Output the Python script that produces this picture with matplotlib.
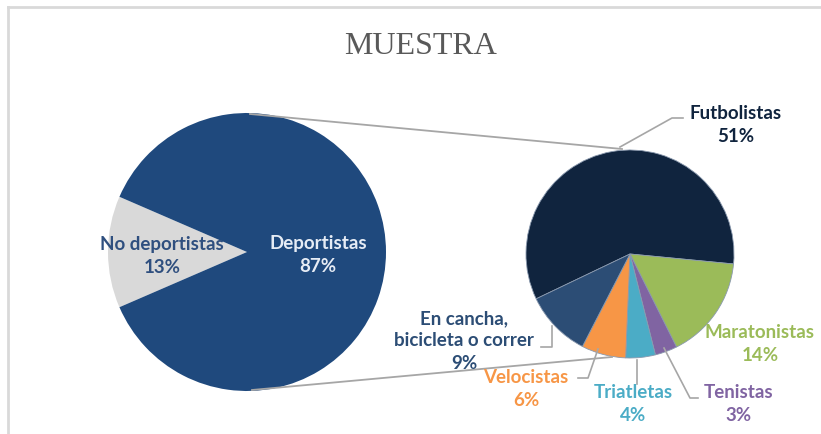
import matplotlib.pyplot as plt
from matplotlib.lines import Line2D

# datos
grupos = ['No deportistas', 'Deportistas']
grupos_pct = [13, 87]
grupos_col = ['#D9D9D9', '#1F497D']

deportes = ['Futbolistas', 'Maratonistas', 'Tenistas', 'Triatletas', 'Velocistas',
            'En cancha,\nbicicleta o correr']
deportes_pct = [51, 14, 3, 4, 6, 9]
deportes_col = ['#10243E', '#9BBB59', '#8064A2', '#4BACC6', '#F79646', '#2C4D75']
deportes_txt = ['#10243E', '#9BBB59', '#8064A2', '#4BACC6', '#F79646', '#2C4D75']

W, H = 821, 435


def Y(y):
    # coordenadas de pixel con origen arriba
    return H - y


fig = plt.figure(figsize=(W / 100, H / 100), dpi=100)
ax = fig.add_axes([0, 0, 1, 1])

# marco del grafico
ax.add_line(Line2D([8, 8], [Y(8), 0], color='#D9D9D9', lw=2))
ax.add_line(Line2D([8, W], [Y(8), Y(8)], color='#D9D9D9', lw=2))

ax.text(421, Y(46), 'MUESTRA', ha='center', va='center', fontsize=23,
        family='Liberation Serif', color='#595959')

# lineas de union entre las dos tortas
ax.plot([250, 622], [Y(115), Y(150)], color='#A6A6A6', lw=1.3)
ax.plot([252, 612], [Y(391), Y(358)], color='#A6A6A6', lw=1.3)

# torta principal
ang_nd = grupos_pct[0] / 100 * 360
ax.pie(grupos_pct, colors=grupos_col, center=(247, Y(253)), radius=139,
       startangle=180 - ang_nd / 2, counterclock=True,
       wedgeprops=dict(linewidth=0), frame=True)

# torta secundaria
ang_fut = deportes_pct[0] / sum(deportes_pct) * 360
ax.pie(deportes_pct, colors=deportes_col, center=(630, Y(255)), radius=104,
       startangle=-5.5 + ang_fut, counterclock=False,
       wedgeprops=dict(linewidth=0.6, edgecolor='#8A99AE'), frame=True)
ax.set_xlim(0, W)
ax.set_ylim(0, H)
ax.set_aspect('equal')
ax.axis('off')

fnt = dict(family='Lato', fontweight='bold', fontsize=13.5, ha='center',
           va='center', linespacing=1.4)

ax.text(162, Y(256), f'{grupos[0]}\n{grupos_pct[0]}%', color='#2F4F7F', **fnt)
ax.text(318, Y(255), f'{grupos[1]}\n{grupos_pct[1]}%', color='#E6ECF5', **fnt)

# etiquetas de la torta secundaria (posiciones de texto)
lbl_pos = [(736, 125), (760, 344), (739, 404), (633, 404), (526, 389), (464, 341)]
for nombre, pct, col, (x, y) in zip(deportes, deportes_pct, deportes_txt, lbl_pos):
    ax.text(x, Y(y), f'{nombre}\n{pct}%', color=col, **fnt)

# lineas guia de las etiquetas
guias = [
    [(620, 148), (672, 119), (683, 119)],
    [(664, 349), (690, 399), (698, 399)],
    [(637, 361), (637, 385)],
    [(598, 350), (588, 379), (578, 379)],
    [(552, 327), (552, 348), (541, 348)],
]
for g in guias:
    ax.plot([p[0] for p in g], [Y(p[1]) for p in g], color='#A6A6A6', lw=1.2)

fig.savefig('out.png', dpi=100)
